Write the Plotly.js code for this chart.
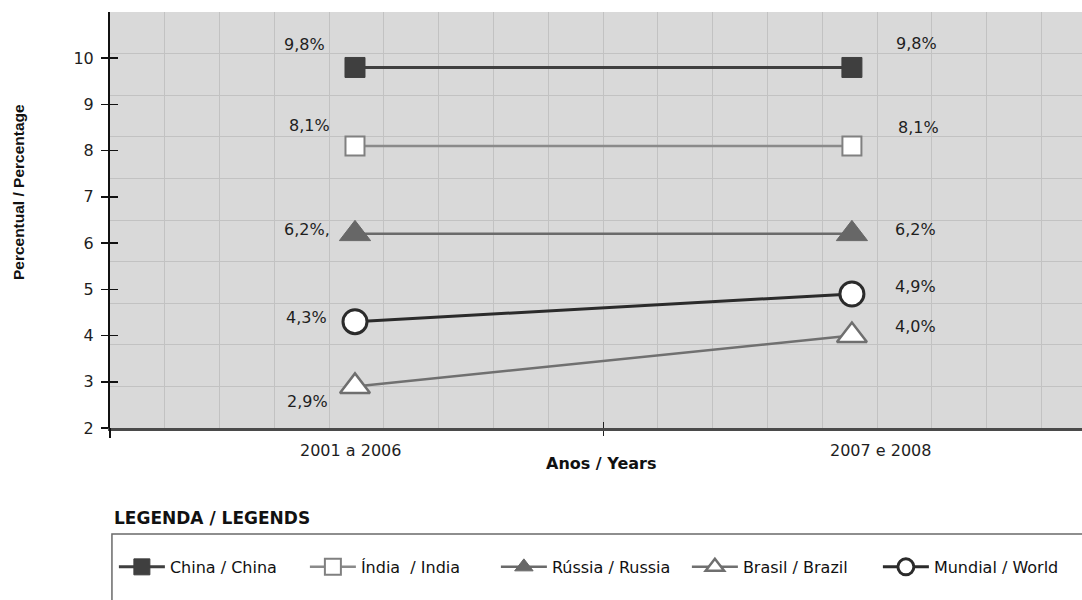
<!DOCTYPE html>
<html>
<head>
<meta charset="utf-8">
<script src="https://cdn.plot.ly/plotly-3.0.1.min.js"></script>
<style>
  html, body { margin: 0; padding: 0; background: #ffffff; }
  #chart { width: 1082px; height: 600px; }
</style>
</head>
<body>
<div id="chart"></div>
<script>
// Periods on the horizontal axis
const periods = ['2001 a 2006', '2007 e 2008'];

// Series names (legend text)
const seriesNames = ['China / China', 'Índia  / India', 'Rússia / Russia', 'Brasil / Brazil', 'Mundial / World'];

// Growth rates (%) per period
const china  = [9.8, 9.8];
const india  = [8.1, 8.1];
const russia = [6.2, 6.2];
const brazil = [2.9, 4.0];
const world  = [4.3, 4.9];

// Extra characters printed after individual value labels
const labelSuffix = [['', ''], ['', ''], [',', ''], ['', ''], ['', '']];

// Y tick values
const yTicks = [2, 3, 4, 5, 6, 7, 8, 9, 10];

// ---------- styling ----------
const seriesValues = [china, india, russia, brazil, world];
const seriesStyle = [
  { line: { color: '#3f3f3f', width: 3 },   marker: { symbol: 'square', size: 20, color: '#3f3f3f', line: { color: '#3f3f3f', width: 1 } } },
  { line: { color: '#8a8a8a', width: 2.5 }, marker: { symbol: 'square', size: 19, color: '#ffffff', line: { color: '#808080', width: 2 } } },
  { line: { color: '#6a6a6a', width: 2.5 }, marker: { symbol: 'triangle-up', size: 27, color: '#676767', line: { color: '#676767', width: 1 } } },
  { line: { color: '#707070', width: 2.5 }, marker: { symbol: 'triangle-up', size: 26, color: '#ffffff', line: { color: '#6f6f6f', width: 2.5 } } },
  { line: { color: '#2b2b2b', width: 3 },   marker: { symbol: 'circle', size: 24, color: '#ffffff', line: { color: '#2b2b2b', width: 3 } } }
];
// label offsets (px) from each point: [left point, right point]
const labelShift = [
  [[-50, 23], [65, 24]],
  [[-45, 21], [67, 19]],
  [[-48, 4],  [64, 4]],
  [[-47, -15], [64, 9]],
  [[-48, 4],  [64, 7]]
];

const numFont = 'DejaVu Sans, sans-serif';
const textColor = '#1e1e1e';

function fmt(v) {
  return v.toFixed(1).replace('.', ',') + '%';
}

const traces = seriesValues.map((vals, i) => ({
  type: 'scatter',
  mode: 'lines+markers',
  name: seriesNames[i],
  x: periods,
  y: vals,
  line: seriesStyle[i].line,
  marker: seriesStyle[i].marker,
  cliponaxis: false,
  hoverinfo: 'x+y+name'
}));

// helper traces that carry no marks: they only bring the grid axes and the
// inner tick stubs into existence
traces.unshift(
  { type: 'scatter', mode: 'markers', x: [0], y: [null], xaxis: 'x3', yaxis: 'y3',
    showlegend: false, hoverinfo: 'skip', marker: { opacity: 0 } },
  { type: 'scatter', mode: 'markers', x: [0], y: [null], xaxis: 'x2', yaxis: 'y2',
    showlegend: false, hoverinfo: 'skip', marker: { opacity: 0 } }
);

const annotations = [];
seriesValues.forEach((vals, i) => {
  vals.forEach((v, j) => {
    annotations.push({
      xref: 'x', yref: 'y', x: periods[j], y: v,
      text: fmt(v) + labelSuffix[i][j],
      showarrow: false,
      xanchor: 'center', yanchor: 'middle',
      xshift: labelShift[i][j][0], yshift: labelShift[i][j][1],
      font: { family: numFont, size: 16, color: textColor }
    });
  });
});

// category labels under the axis
const catShift = [-4, 29];
periods.forEach((p, j) => {
  annotations.push({
    xref: 'x', yref: 'paper', x: p, y: 0,
    text: p, showarrow: false,
    xanchor: 'center', yanchor: 'middle',
    xshift: catShift[j], yshift: -22,
    font: { family: numFont, size: 16, color: textColor }
  });
});

annotations.push({
  xref: 'paper', yref: 'paper', x: 0.505, y: 0, yshift: -35,
  text: '<b>Anos / Years</b>', showarrow: false,
  xanchor: 'center', yanchor: 'middle',
  font: { family: 'DejaVu Sans, sans-serif', size: 16, color: '#111' }
});
annotations.push({
  xref: 'paper', yref: 'paper', x: -0.0947, y: 0.567,
  text: '<b>Percentual / Percentage</b>', showarrow: false, textangle: -90,
  xanchor: 'center', yanchor: 'middle',
  font: { family: 'Liberation Sans, Arial, sans-serif', size: 15.5, color: '#111' }
});
annotations.push({
  xref: 'paper', yref: 'paper', x: 0.002, y: -0.217,
  text: '<b>LEGENDA / LEGENDS</b>', showarrow: false,
  xanchor: 'left', yanchor: 'middle',
  font: { family: 'DejaVu Sans, sans-serif', size: 17, color: '#111' }
});

const layout = {
  width: 1082, height: 600,
  margin: { l: 110, r: 0, t: 12, b: 172 },
  paper_bgcolor: '#ffffff',
  plot_bgcolor: '#d9d9d9',
  showlegend: true,
  xaxis: {
    type: 'category', categoryorder: 'array', categoryarray: periods,
    range: [-0.493, 1.463], tickson: 'boundaries',
    ticks: 'outside', ticklen: 5, tickwidth: 1.5, tickcolor: '#222',
    showticklabels: false, showgrid: false, zeroline: false,
    showline: true, linecolor: '#4a4a4a', linewidth: 2.5, layer: 'above traces',
    fixedrange: true
  },
  xaxis2: {
    overlaying: 'x', anchor: 'y', range: [-0.493, 1.463],
    tickmode: 'array', tickvals: [0.5], ticks: 'inside', ticklen: 6, tickwidth: 1.5, tickcolor: '#222',
    showticklabels: false, showgrid: false, zeroline: false, showline: false
  },
  xaxis3: {
    overlaying: 'x', anchor: 'y', range: [0, 17.74], dtick: 1, tick0: 0,
    showgrid: true, gridcolor: '#c2c2c2', gridwidth: 1,
    ticks: '', showticklabels: false, zeroline: false, showline: false
  },
  yaxis: {
    range: [2, 11], tickmode: 'array', tickvals: yTicks,
    ticks: 'outside', ticklen: 7, tickwidth: 1.5, tickcolor: '#111',
    ticklabelstandoff: 4,
    tickfont: { family: numFont, size: 16, color: textColor },
    showgrid: false, zeroline: false,
    showline: true, linecolor: '#111', linewidth: 2, layer: 'above traces',
    fixedrange: true
  },
  yaxis2: {
    overlaying: 'y', anchor: 'x', range: [2, 11],
    tickmode: 'array', tickvals: yTicks, ticks: 'inside', ticklen: 8, tickwidth: 1.5, tickcolor: '#111',
    showticklabels: false, showgrid: false, zeroline: false, showline: false
  },
  yaxis3: {
    overlaying: 'y', anchor: 'x', range: [0, 10], dtick: 1, tick0: 0,
    showgrid: true, gridcolor: '#c2c2c2', gridwidth: 1,
    ticks: '', showticklabels: false, zeroline: false, showline: false
  },
  legend: {
    orientation: 'h',
    x: 0.004, xanchor: 'left',
    y: -0.334, yanchor: 'middle',
    itemwidth: 46,
    entrywidth: 130, entrywidthmode: 'pixels',
    traceorder: 'normal',
    bgcolor: 'rgba(0,0,0,0)', borderwidth: 0,
    font: { family: 'DejaVu Sans, sans-serif', size: 16, color: '#111' }
  },
  shapes: [
    // legend frame
    { type: 'rect', xref: 'paper', yref: 'paper', x0: 0.002, x1: 1.02, y0: -0.2548, y1: -0.47,
      line: { color: '#6a6a6a', width: 1.5 }, fillcolor: 'rgba(0,0,0,0)', layer: 'above' },
    // y axis line continues a little below the x axis
    { type: 'line', xref: 'paper', yref: 'paper', x0: 0, x1: 0,
      ysizemode: 'pixel', yanchor: 0, y0: 0, y1: -10,
      line: { color: '#111', width: 2 }, layer: 'above' }
  ],
  annotations: annotations
};

Plotly.newPlot('chart', traces, layout, { displayModeBar: false, staticPlot: true });
</script>
</body>
</html>
